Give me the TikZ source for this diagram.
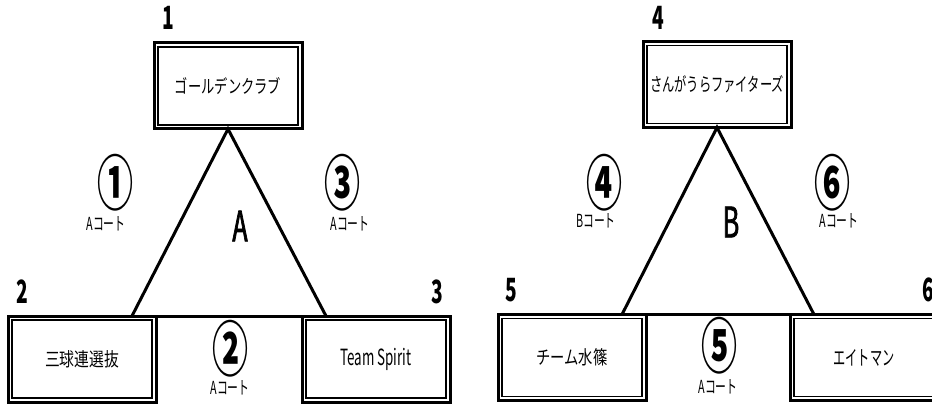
\documentclass[tikz,border=0pt]{standalone}
\usepackage{fontspec}
\usepackage{graphicx}
\setmainfont{Noto Sans CJK JP}[FakeStretch=0.6]
\newfontfamily\groupfont{Noto Sans CJK JP}[FakeStretch=0.6,FakeBold=1.6]
\newcommand{\teamname}[2]{\resizebox{#1}{16pt}{#2}}

\begin{document}
\begin{tikzpicture}[x=1pt,y=-1pt,
  team/.style={draw,line width=1.3pt,minimum width=140pt,minimum height=78pt,
    inner sep=0pt,outer sep=0pt,font=\fontsize{22}{24}\selectfont},
  frame/.style={line width=3pt},
  court/.style={line width=3pt},
  seed/.style={font=\bfseries\fontsize{32}{34}\selectfont},
  game/.style={font=\bfseries\fontsize{60}{62}\selectfont},
  place/.style={font=\fontsize{18}{20}\selectfont},
  group/.style={font=\groupfont\fontsize{42}{44}\selectfont}]

  \useasboundingbox (0,0) rectangle (932,406);

  % group A
  \node[team] (golden) at (228,86) {\teamname{106pt}{ゴールデンクラブ}};
  \node[team] (sankyu) at (82,359) {\teamname{74pt}{三球連選抜}};
  \node[team] (spirit) at (376,359) {\resizebox{71pt}{!}{Team Spirit}};

  % group B
  \node[team] (sangaura) at (717,84.5) {\teamname{134pt}{さんがうらファイターズ}};
  \node[team] (mizushino) at (572,357.5) {\teamname{71pt}{チーム水篠}};
  \node[team] (eightman) at (864,357.5) {\teamname{61pt}{エイトマン}};

  \foreach \n in {golden,sankyu,spirit,sangaura,mizushino,eightman}
    \draw[frame] ([shift={(-4pt,4pt)}]\n.north west) rectangle ([shift={(4pt,-4pt)}]\n.south east);

  \draw[court] ([xshift=50pt,yshift=4pt]sankyu.north) -- ([yshift=-4pt]golden.south)
    -- ([xshift=-50pt,yshift=4pt]spirit.north);
  \draw[court] ([shift={(4pt,4pt)}]sankyu.north east) -- ([shift={(-4pt,4pt)}]spirit.north west);

  \draw[court] ([xshift=50pt,yshift=4pt]mizushino.north) -- ([yshift=-4pt]sangaura.south)
    -- ([xshift=-50pt,yshift=4pt]eightman.north);
  \draw[court] ([shift={(4pt,4pt)}]mizushino.north east) -- ([shift={(-4pt,4pt)}]eightman.north west);

  % seeds
  \node[seed] (s1) at (168,18) {1};
  \node[seed] (s2) at (22,292) {2};
  \node[seed] (s3) at (437,292) {3};
  \node[seed] (s4) at (658,18) {4};
  \node[seed] (s5) at (511,290) {5};
  \node[seed] (s6) at (928,290) {6};

  % games
  \node[group] (ga) at (240,226) {A};
  \node[game] (g1) at (115,183) {①};
  \node[place] (c1) at (106,224) {Aコート};
  \node[game] (g2) at (230,349) {②};
  \node[place] (c2) at (230,388) {Aコート};
  \node[game] (g3) at (342,183) {③};
  \node[place] (c3) at (350,224) {Aコート};

  \node[group] (gb) at (731,222) {B};
  \node[game] (g4) at (604,183) {④};
  \node[place] (c4) at (596,221) {Bコート};
  \node[game] (g5) at (719,346) {⑤};
  \node[place] (c5) at (718,387) {Aコート};
  \node[game] (g6) at (832,183) {⑥};
  \node[place] (c6) at (839,221) {Aコート};

\end{tikzpicture}
\end{document}
